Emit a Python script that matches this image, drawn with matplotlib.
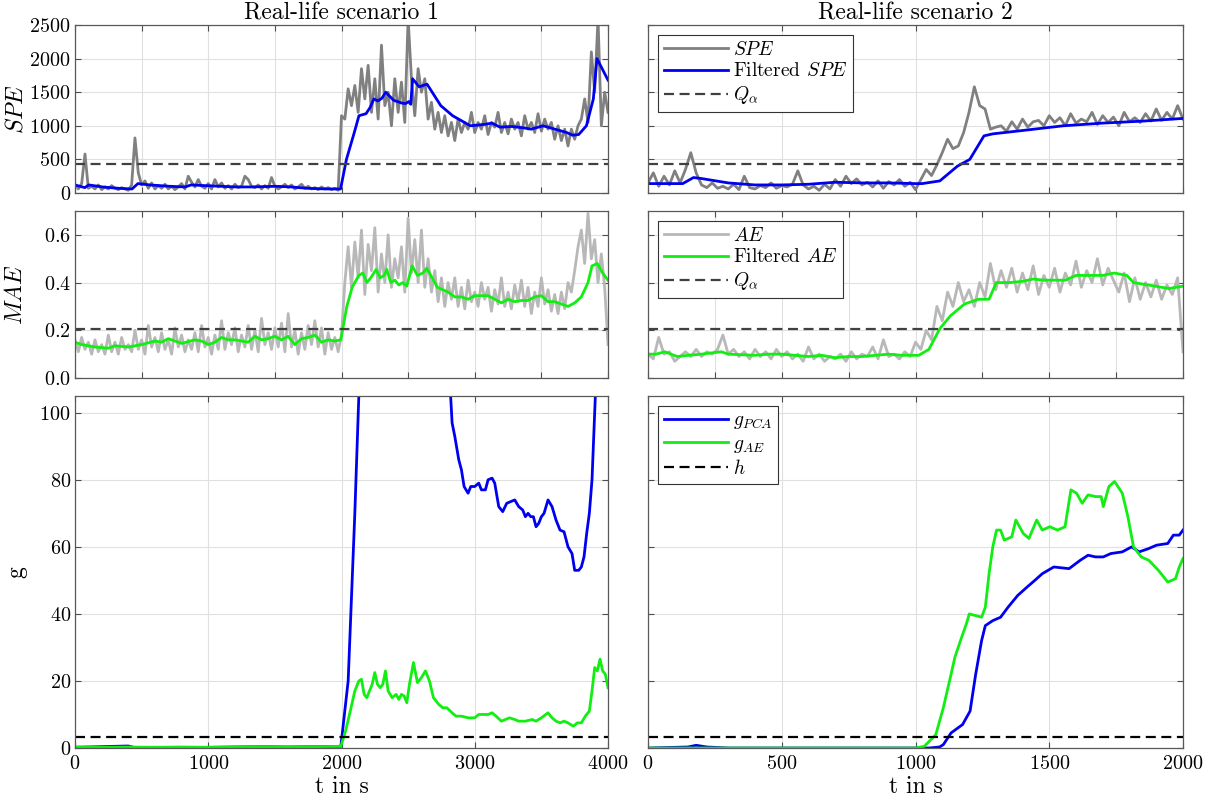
import numpy as np
import matplotlib.pyplot as plt

plt.rcParams['font.family'] = 'cmr10'
plt.rcParams['mathtext.fontset'] = 'cm'
plt.rcParams['axes.formatter.use_mathtext'] = True

# ---------------- scenario 1 (0..4000 s) ----------------
spe1 = [130, 60, 140, 580, 70, 100, 60, 120, 50, 90, 60, 110, 70, 50, 80, 60, 40, 120, 820, 300,
        120, 180, 70, 150, 60, 110, 70, 130, 60, 100, 50, 90, 140, 60, 250, 160, 90, 200, 100, 70,
        140, 60, 200, 90, 150, 70, 110, 60, 130, 80, 100, 250, 200, 100, 80, 120, 60, 110, 70, 230,
        100, 60, 90, 130, 80, 120, 60, 90, 130, 70, 100, 60, 80, 50, 90, 60, 80, 50, 70, 40,
        1150, 1100, 1550, 1300, 1600, 1200, 1850, 1400, 1900, 1200, 1700, 1100, 2200, 1300, 1500, 1000,
        1700, 1200, 1650, 1050, 2600, 1700, 1150, 1850, 1500, 1700, 1100, 1350, 950, 1200, 900, 1150,
        850, 1050, 780, 1100, 900, 1050, 950, 1200, 900, 1050, 950, 1150, 870, 1050, 980, 1200, 900,
        1050, 880, 1100, 950, 1050, 850, 1150, 950, 1050, 900, 1180, 920, 1100, 950, 1050, 800, 1000,
        780, 950, 700, 950, 800, 1000, 1100, 1400, 1050, 2100, 1500, 2600, 1000, 1500, 1200]

spe1_f_t = [0, 74, 103, 207, 325, 428, 472, 561, 708, 826, 871, 974, 1092, 1210, 1328, 1505, 1623,
            1741, 1889, 1993, 2037, 2096, 2131, 2184, 2214, 2243, 2273, 2303, 2332, 2391, 2450, 2480,
            2505, 2520, 2533, 2583, 2642, 2745, 2834, 2923, 2967, 3070, 3130, 3189, 3277, 3365, 3424,
            3513, 3601, 3690, 3734, 3780, 3838, 3890, 3917, 3956, 4000]
spe1_f = [120, 80, 120, 90, 70, 60, 140, 120, 100, 90, 120, 110, 100, 90, 90, 100, 90,
          70, 60, 60, 500, 900, 1150, 1180, 1270, 1400, 1370, 1410, 1500, 1380, 1340, 1330,
          1360, 1320, 1700, 1580, 1620, 1300, 1150, 1050, 1000, 1020, 1040, 980, 990, 970, 950,
          1000, 950, 900, 860, 870, 1000, 1400, 2000, 1850, 1680]

mae1 = [0.16, 0.11, 0.17, 0.12, 0.15, 0.10, 0.16, 0.11, 0.14, 0.10, 0.18, 0.11, 0.15, 0.10, 0.17, 0.12,
        0.14, 0.11, 0.20, 0.12, 0.16, 0.10, 0.22, 0.13,
        0.17, 0.11, 0.19, 0.12, 0.16, 0.10, 0.21, 0.13, 0.18, 0.11, 0.16, 0.12, 0.19, 0.11, 0.22, 0.13,
        0.17, 0.10, 0.18, 0.12,
        0.24, 0.12, 0.19, 0.14, 0.21, 0.11, 0.18, 0.13, 0.22, 0.12, 0.20, 0.11, 0.25, 0.14, 0.19, 0.12,
        0.21, 0.13, 0.23, 0.11,
        0.27, 0.13, 0.20, 0.10, 0.19, 0.12, 0.22, 0.14, 0.24, 0.13, 0.21, 0.10, 0.19, 0.12, 0.17, 0.11, 0.18,
        0.40, 0.55, 0.38, 0.57, 0.42, 0.62, 0.35, 0.56, 0.45, 0.63, 0.36, 0.52, 0.40, 0.60, 0.38, 0.50,
        0.42, 0.55, 0.36, 0.67, 0.44, 0.58, 0.40, 0.62, 0.38, 0.50, 0.36, 0.45, 0.32, 0.42, 0.30, 0.40,
        0.33, 0.42,
        0.30, 0.38, 0.29, 0.41, 0.32, 0.36, 0.30, 0.40, 0.33, 0.38, 0.28, 0.37, 0.31, 0.42, 0.30, 0.36,
        0.29, 0.39, 0.32, 0.41, 0.30, 0.38, 0.27, 0.36, 0.30, 0.42, 0.31, 0.37, 0.28, 0.35, 0.27, 0.36,
        0.29, 0.40, 0.36, 0.45, 0.55, 0.62, 0.48, 0.69, 0.50, 0.58, 0.40, 0.52, 0.38, 0.14]

mae1_f_t = [0, 50, 150, 250, 300, 400, 500, 600, 650, 700, 800, 900, 950, 1000, 1050, 1100, 1150, 1200,
            1300, 1350, 1400, 1450, 1500, 1550, 1600, 1650, 1700, 1750, 1800, 1850, 1900, 1950, 1995,
            2040, 2080, 2130, 2160, 2190, 2220, 2260, 2290, 2320, 2340, 2370, 2400, 2430, 2460, 2490,
            2530, 2570, 2610, 2640, 2680, 2720, 2760, 2800, 2850, 2900, 2950, 3000, 3050, 3100, 3150,
            3200, 3250, 3300, 3350, 3400, 3450, 3500, 3550, 3600, 3650, 3700, 3750, 3800, 3850, 3880,
            3920, 3960, 4000]
mae1_f = [0.15, 0.14, 0.13, 0.125, 0.135, 0.13, 0.14, 0.155, 0.15, 0.165, 0.145, 0.16, 0.155, 0.14, 0.15,
          0.17, 0.16, 0.16, 0.15, 0.175, 0.16, 0.165, 0.175, 0.16, 0.175, 0.14, 0.165, 0.17, 0.18, 0.15,
          0.16, 0.155, 0.16, 0.30, 0.38, 0.43, 0.44, 0.40, 0.42, 0.455, 0.42, 0.43, 0.455, 0.40, 0.41,
          0.39, 0.40, 0.385, 0.47, 0.43, 0.44, 0.46, 0.42, 0.38, 0.37, 0.36, 0.34, 0.34, 0.33, 0.345,
          0.345, 0.345, 0.33, 0.315, 0.33, 0.32, 0.325, 0.325, 0.34, 0.345, 0.32, 0.32, 0.31, 0.30,
          0.315, 0.34, 0.40, 0.47, 0.48, 0.44, 0.41]

g1_t = [0, 100, 200, 300, 400, 450, 600, 800, 1000, 1200, 1400, 1600, 1800, 1995, 2050, 2100, 2130,
        2150, 2400, 2700, 2800, 2819, 2830, 2850, 2880, 2900, 2920, 2950, 2970, 3000, 3030, 3050, 3080,
        3100, 3130, 3150, 3180, 3210, 3240, 3270, 3300, 3330, 3360, 3380, 3400, 3420, 3440, 3460, 3480,
        3500, 3520, 3550, 3580, 3610, 3640, 3670, 3700, 3730, 3750, 3780, 3800, 3820, 3840, 3860, 3880,
        3900, 3910, 4000]
g1_pca = [0.2, 0.3, 0.4, 0.5, 0.6, 0.1, 0.2, 0.1, 0.2, 0.3, 0.4, 0.3, 0.4, 0.5, 20, 70, 105,
          120, 200, 150, 110, 105, 97, 93, 86, 83, 78, 76, 78, 78, 79, 77, 77,
          80, 80.5, 79, 72, 70.5, 73, 73.5, 74, 72, 71, 69, 70, 69, 69, 66, 67,
          69, 70, 74, 72, 68, 65, 64.5, 60, 58, 53, 53, 54, 57, 64, 70, 80,
          100, 110, 160]

g1_ae_t = [0, 200, 400, 600, 800, 1000, 1200, 1400, 1600, 1800, 1995, 2030, 2060, 2100, 2130, 2150,
           2170, 2190, 2210, 2230, 2250, 2270, 2290, 2310, 2330, 2350, 2380, 2410, 2430, 2450, 2470,
           2490, 2510, 2540, 2570, 2600, 2630, 2660, 2690, 2730, 2760, 2790, 2830, 2860, 2900, 2950,
           3000, 3030, 3070, 3100, 3130, 3160, 3200, 3230, 3260, 3300, 3330, 3380, 3430, 3460, 3500,
           3550, 3580, 3610, 3640, 3670, 3700, 3740, 3770, 3800, 3830, 3860, 3880, 3900, 3920, 3940,
           3960, 3980, 4000]
g1_ae = [0.3, 0.2, 0.3, 0.2, 0.3, 0.2, 0.3, 0.4, 0.3, 0.4, 0.5, 5, 10, 17, 20, 20.5,
         16, 15, 17, 19, 22.5, 19, 18, 19, 23, 17, 15, 16, 14.5, 16, 15.5,
         13.5, 19, 25.5, 19.5, 21, 23, 20, 15, 13, 12, 12, 10.5, 9.5, 9.5, 9,
         9, 10, 10, 10, 10.5, 9.5, 8, 8.5, 9, 8.5, 8, 8, 8.5, 8, 9,
         10.5, 9, 8, 7.5, 8, 7.5, 6.5, 7.5, 7.5, 9.5, 11, 17, 24, 23, 26.5,
         23, 22, 18]

# ---------------- scenario 2 (0..2000 s) ----------------
spe2 = [150, 300, 100, 250, 120, 330, 150, 350, 600, 300, 120, 80, 150, 70, 100, 60, 130, 50, 250, 80,
        60, 110, 80, 150, 70, 110, 90, 130, 330, 120, 60, 100, 40, 130, 60, 200, 100, 250, 140, 210,
        120, 160, 90, 180, 70, 170, 120, 200, 100, 160, 50, 200, 350, 260, 420, 600, 800, 660, 700, 900,
        1200, 1580, 1300, 1250, 950, 980, 1000, 920, 1060, 950, 1100, 980, 1060, 1080, 1000, 1150, 1050,
        1120, 1000, 1180, 1040, 1100, 1060, 1200, 1020, 1150, 1050, 1130, 1000, 1200, 1060, 1120, 1050,
        1180, 1070, 1250, 1080, 1200, 1100, 1300, 1100]

spe2_f_t = [0, 130, 170, 200, 300, 400, 500, 600, 700, 800, 900, 1000, 1025, 1091, 1157, 1203, 1256,
            1289, 1400, 1552, 1700, 1850, 2000]
spe2_f = [140, 140, 230, 215, 150, 120, 120, 130, 160, 150, 150, 140, 140, 180, 400, 500, 850,
          880, 930, 1000, 1040, 1070, 1110]

mae2 = [0.10, 0.08, 0.17, 0.10, 0.11, 0.07, 0.09, 0.11, 0.09, 0.12, 0.09, 0.11, 0.10, 0.12, 0.18, 0.10,
        0.12, 0.09, 0.11, 0.08, 0.12, 0.09, 0.11, 0.08, 0.12, 0.09, 0.11, 0.08, 0.10, 0.07, 0.13, 0.08,
        0.10, 0.07, 0.09, 0.08, 0.10, 0.07, 0.11, 0.08, 0.10, 0.09, 0.13, 0.08, 0.16, 0.09, 0.10, 0.08,
        0.11, 0.09, 0.15, 0.12, 0.20, 0.16, 0.30, 0.24, 0.36, 0.30, 0.40, 0.32, 0.37, 0.30, 0.40, 0.34,
        0.48, 0.37, 0.45, 0.38, 0.46, 0.36, 0.44, 0.37, 0.47, 0.35, 0.43, 0.38, 0.46, 0.36, 0.44, 0.39,
        0.49, 0.38, 0.45, 0.40, 0.50, 0.39, 0.46, 0.41, 0.36, 0.44, 0.32, 0.42, 0.33, 0.40, 0.34, 0.41,
        0.33, 0.39, 0.35, 0.42, 0.11]

mae2_f_t = [0, 30, 63, 109, 150, 200, 274, 300, 400, 450, 500, 550, 600, 650, 700, 750, 800, 900,
            950, 1012, 1050, 1091, 1130, 1183, 1236, 1275, 1302, 1350, 1400, 1440, 1480, 1520, 1560,
            1600, 1650, 1700, 1743, 1790, 1815, 1870, 1947, 2000]
mae2_f = [0.10, 0.10, 0.11, 0.09, 0.095, 0.10, 0.11, 0.10, 0.095, 0.10, 0.10, 0.095, 0.09, 0.095,
          0.085, 0.09, 0.09, 0.10, 0.095, 0.095, 0.12, 0.207, 0.26, 0.31, 0.33, 0.33, 0.40, 0.40,
          0.405, 0.415, 0.41, 0.41, 0.41, 0.43, 0.43, 0.43, 0.44, 0.43, 0.40, 0.39, 0.375, 0.385]

g2_pca_t = [0, 150, 180, 220, 300, 1050, 1090, 1104, 1133, 1176, 1204, 1225, 1247, 1261, 1289, 1318,
            1346, 1382, 1417, 1446, 1474, 1517, 1574, 1616, 1645, 1673, 1702, 1730, 1773, 1808, 1836,
            1872, 1901, 1943, 1964, 1986, 2000]
g2_pca = [0, 0.3, 0.8, 0.3, 0, 0, 0.3, 1, 4.5, 7, 11, 22, 32, 36.5, 38, 39,
          42, 45.5, 48, 50, 52, 54, 53.5, 56, 57.5, 57, 57, 58, 58.5, 60, 58.5,
          59.5, 60.5, 61, 63.5, 63.5, 65]

g2_ae_t = [0, 1000, 1033, 1076, 1104, 1133, 1147, 1168, 1190, 1201, 1225, 1247, 1261, 1275, 1289,
           1303, 1318, 1332, 1360, 1375, 1403, 1424, 1453, 1474, 1502, 1531, 1559, 1581, 1602, 1623,
           1645, 1673, 1694, 1702, 1723, 1744, 1773, 1794, 1815, 1844, 1872, 1908, 1943, 1972, 1986, 2000]
g2_ae = [0, 0, 0.5, 4, 12, 22, 27, 32, 37, 40, 39.5, 39, 42, 52, 60,
         65, 65, 62, 63, 68, 64, 62.5, 68, 65, 66, 65, 66, 77, 76, 73,
         75.5, 75, 75, 72, 78, 79.5, 76, 69, 60, 57, 56, 53, 49.5, 50.5, 54, 56.5]

q_spe = 430
q_mae = 0.205
h_thr = 3.3

C_SPE = '0.5'
C_AE = '0.72'
C_BLUE = '#0000f0'
C_GREEN = '#11ee11'
C_Q = '0.25'

fig = plt.figure(figsize=(12.15, 8.07), dpi=100)
xl, wl = 75 / 1215, 533 / 1215
xr, wr = 648 / 1215, 535 / 1215
rows = [(1 - 193 / 807, 168 / 807), (1 - 378 / 807, 167 / 807), (1 - 748 / 807, 352 / 807)]

axes = [[fig.add_axes([x, b, w, h]) for (x, w) in ((xl, wl), (xr, wr))] for (b, h) in rows]


def style(ax, xmax, xstep, ylim, yticks, xlab, ylab):
    ax.set_xlim(0, xmax)
    ax.set_xticks(np.arange(0, xmax + 1, xstep))
    ax.set_ylim(*ylim)
    ax.set_yticks(yticks)
    ax.grid(True, color='0.88', lw=0.8)
    ax.set_axisbelow(True)
    ax.tick_params(direction='in', top=True, right=True, length=4, width=0.8,
                   color='0.3', labelsize=14.5, pad=3,
                   labelbottom=xlab, labelleft=ylab)
    ax.tick_params(axis='x', pad=5)
    for s in ax.spines.values():
        s.set_color('0.35')
        s.set_linewidth(0.9)


def dashed(ax, xmax, y, color):
    ax.plot([0, xmax], [y, y], color=color, lw=1.6, dashes=(4.5, 2.5))


# row 1: SPE
for ax, raw, ft, fv, xmax, step in ((axes[0][0], spe1, spe1_f_t, spe1_f, 4000, 500),
                                    (axes[0][1], spe2, spe2_f_t, spe2_f, 2000, 500)):
    ax.plot(np.linspace(0, xmax, len(raw)), raw, color=C_SPE, lw=2, label=r'$SPE$')
    ax.plot(ft, fv, color=C_BLUE, lw=2, label=r'Filtered $SPE$')
    dashed(ax, xmax, q_spe, C_Q)
    ax.lines[-1].set_label(r'$Q_\alpha$')
    style(ax, xmax, step, (0, 2500), np.arange(0, 2501, 500), False, ax is axes[0][0])

# row 2: MAE
for ax, raw, ft, fv, xmax, step in ((axes[1][0], mae1, mae1_f_t, mae1_f, 4000, 500),
                                    (axes[1][1], mae2, mae2_f_t, mae2_f, 2000, 250)):
    ax.plot(np.linspace(0, xmax, len(raw)), raw, color=C_AE, lw=2, label=r'$AE$')
    ax.plot(ft, fv, color=C_GREEN, lw=2, label=r'Filtered $AE$')
    dashed(ax, xmax, q_mae, C_Q)
    ax.lines[-1].set_label(r'$Q_\alpha$')
    style(ax, xmax, step, (0, 0.7), [0, 0.2, 0.4, 0.6], False, ax is axes[1][0])

# row 3: g
for ax, pt, pv, at, av, xmax, step in ((axes[2][0], g1_t, g1_pca, g1_ae_t, g1_ae, 4000, 1000),
                                       (axes[2][1], g2_pca_t, g2_pca, g2_ae_t, g2_ae, 2000, 500)):
    ax.plot(pt, pv, color=C_BLUE, lw=2, label=r'$g_{PCA}$')
    ax.plot(at, av, color=C_GREEN, lw=2, label=r'$g_{AE}$')
    dashed(ax, xmax, h_thr, 'k')
    ax.lines[-1].set_label(r'$h$')
    style(ax, xmax, step, (0, 105), np.arange(0, 101, 20), True, ax is axes[2][0])
    ax.set_xlabel('t in s', fontsize=17, labelpad=2)

axes[0][0].set_title('Real-life scenario 1', fontsize=17, pad=4)
axes[0][1].set_title('Real-life scenario 2', fontsize=17, pad=4)
axes[0][0].set_ylabel(r'$SPE$', fontsize=17)
axes[1][0].set_ylabel(r'$MAE$', fontsize=17)
axes[2][0].set_ylabel('g', fontsize=17)
axes[0][0].yaxis.set_label_coords(-0.09, 0.5)
axes[1][0].yaxis.set_label_coords(-0.09, 0.5)
axes[2][0].yaxis.set_label_coords(-0.09, 0.5)

for ax in (axes[0][1], axes[1][1], axes[2][1]):
    leg = ax.legend(loc='upper left', fontsize=14, fancybox=False, framealpha=1,
                    edgecolor='0.2', handlelength=3.3, handletextpad=0.25,
                    labelspacing=0.2, borderpad=0.3, borderaxespad=0.5)
    leg.get_frame().set_linewidth(0.8)

fig.savefig('out.png', dpi=100)
